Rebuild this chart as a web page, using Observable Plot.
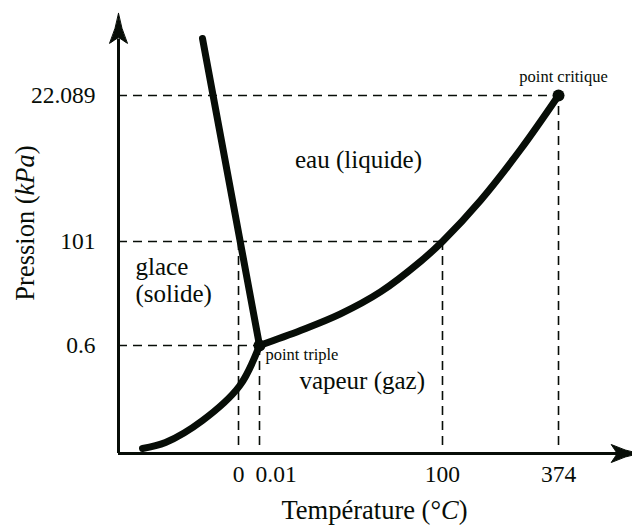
<!DOCTYPE html>
<html><head><meta charset="utf-8">
<script src="https://cdn.jsdelivr.net/npm/d3@7"></script>
<script src="https://cdn.jsdelivr.net/npm/@observablehq/plot@0.6"></script>
<style>body{margin:0;background:#fff}</style>
</head><body><div id="chart"></div>
<script>
// Schematic phase diagram of water (axes in schematic units 0..100)
const xTickLabels = ["0", "0.01", "100", "374"];
const xTickPos = [23.44, 27.54, 63.28, 85.94];
const yTickLabels = ["0.6", "101", "22.089"];
const yTickPos = [24.49, 48.07, 81.18];

// curves (schematic)
const fusionX = [16.41, 27.54];
const fusionY = [94.10, 24.49];
const vaporX = [27.54, 35.55, 43.36, 51.17, 58.98, 63.28, 70.70, 78.52, 85.94];
const vaporY = [24.49, 27.89, 31.66, 36.64, 43.54, 48.07, 57.37, 68.93, 81.18];
const sublX = [4.69, 9.18, 16.41, 23.63, 27.54];
const sublY = [1.13, 2.49, 7.48, 15.3, 24.49];

const specialNames = ["point triple", "point critique"];
const specialX = [27.54, 85.94];
const specialY = [24.49, 81.18];

const regionNames = ["eau (liquide)", "vapeur (gaz)"];
const regionX = [46.88, 47.6];
const regionY = [66.44, 16.55];
const solidLines = ["glace", "(solide)"];
const solidX = [3.32, 3.32];
const solidY = [42.3, 36.1];

const xTitle = "Température (°C)";
const yTitle = "Pression (kPa)";

const toPts = (xs, ys) => xs.map((x, i) => ({x, y: ys[i]}));
const ink = "#070d07";
const font = "'Liberation Serif', 'DejaVu Serif', serif";

// vertical dashed guides go up to the relevant pressure level
const vTop = [yTickPos[1], yTickPos[0], yTickPos[1], yTickPos[2]];
const hRight = [xTickPos[1], xTickPos[2], xTickPos[3]];
const vGuides = xTickPos.map((x, i) => ({x, y2: vTop[i]}));
const hGuides = yTickPos.map((y, i) => ({y, x2: hRight[i]}));
const xTicks = xTickPos.map((x, i) => ({x, label: xTickLabels[i]}));
const yTicks = yTickPos.map((y, i) => ({y, label: yTickLabels[i]}));

const stealth = {
  draw(context, l) {
    context.moveTo(0, -l);
    context.quadraticCurveTo(2.5, -l * 0.5, 9, 0);
    context.quadraticCurveTo(3, -4, 0, -6);
    context.quadraticCurveTo(-3, -4, -9, 0);
    context.quadraticCurveTo(-2.5, -l * 0.5, 0, -l);
    context.closePath();
  }
};

const txt = {fontFamily: font, fill: ink};

const chart = Plot.plot({
  width: 632,
  height: 529,
  marginLeft: 118,
  marginRight: 2,
  marginTop: 12,
  marginBottom: 76,
  style: {fontFamily: font, background: "#fff", color: ink},
  x: {domain: [0, 100], axis: null},
  y: {domain: [0, 100], axis: null},
  marks: [
    // dashed guides
    Plot.ruleX(vGuides, {x: "x", y1: 1.8, y2: "y2", stroke: ink, strokeWidth: 1.6, strokeDasharray: "9,6"}),
    Plot.ruleY(hGuides, {y: "y", x1: 0, x2: "x2", stroke: ink, strokeWidth: 1.6, strokeDasharray: "9,6"}),
    // axes
    Plot.ruleX([0], {y1: 0, y2: 94, stroke: ink, strokeWidth: 3}),
    Plot.ruleY([0], {x1: 0, x2: 98, stroke: ink, strokeWidth: 3}),
    Plot.vector([{x: 0, y: 99.8}], {
      x: "x", y: "y", rotate: 0, length: 30, anchor: "end", shape: stealth,
      fill: ink, stroke: ink, strokeWidth: 1
    }),
    Plot.vector([{x: 101.7, y: 0}], {
      x: "x", y: "y", rotate: 90, length: 28, anchor: "end", shape: stealth,
      fill: ink, stroke: ink, strokeWidth: 1
    }),
    // phase boundaries
    Plot.line(toPts(fusionX, fusionY), {x: "x", y: "y", stroke: ink, strokeWidth: 7}),
    Plot.line(toPts(vaporX, vaporY), {x: "x", y: "y", stroke: ink, strokeWidth: 7, curve: "catmull-rom"}),
    Plot.line(toPts(sublX, sublY), {x: "x", y: "y", stroke: ink, strokeWidth: 7, curve: "catmull-rom"}),
    Plot.dot(toPts(specialX, specialY), {x: "x", y: "y", r: 6, fill: ink}),
    // tick labels
    Plot.text(xTicks.filter(d => d.label !== "0.01"), {x: "x", y: 0, text: "label", dy: 21, fontSize: 23.5, ...txt}),
    Plot.text(xTicks.filter(d => d.label === "0.01"), {x: "x", y: 0, text: "label", dy: 21, dx: -4, textAnchor: "start", fontSize: 23.5, ...txt}),
    Plot.text(yTicks, {x: 0, y: "y", text: "label", dx: -23, textAnchor: "end", fontSize: 23.5, ...txt}),
    // region labels
    Plot.text(regionNames.map((t, i) => ({t, x: regionX[i], y: regionY[i]})), {x: "x", y: "y", text: "t", fontSize: 25, ...txt}),
    Plot.text(solidLines.map((t, i) => ({t, x: solidX[i], y: solidY[i]})), {x: "x", y: "y", text: "t", textAnchor: "start", fontSize: 25, ...txt}),
    Plot.text(specialNames.map((t, i) => ({t, x: specialX[i], y: specialY[i]})).slice(0, 1), {x: "x", y: "y", text: "t", textAnchor: "start", dx: 6, dy: 9, fontSize: 16.5, ...txt}),
    Plot.text(specialNames.map((t, i) => ({t, x: specialX[i], y: specialY[i]})).slice(1), {x: "x", y: "y", text: "t", dx: 5, dy: -19, fontSize: 16.5, ...txt}),
    // axis titles
    Plot.text([xTitle], {frameAnchor: "bottom", dy: 65, text: d => d, textAnchor: "middle", fontSize: 26.5, ...txt}),
    Plot.text([yTitle], {frameAnchor: "left", dx: -93, dy: -10, rotate: -90, text: d => d, textAnchor: "middle", fontSize: 26.5, ...txt})
  ]
});

// italicize the symbols in the axis titles
d3.select(chart).selectAll("text").each(function () {
  const el = d3.select(this);
  const s = el.text();
  let parts = null;
  if (s === yTitle) parts = ["Pression (", "kPa", ")"];
  else if (s === xTitle) parts = ["Température (°", "C", ")"];
  if (parts) {
    el.text(null);
    el.append("tspan").text(parts[0]);
    el.append("tspan").attr("font-style", "italic").text(parts[1]);
    el.append("tspan").text(parts[2]);
  }
});

document.getElementById("chart").appendChild(chart);
</script>
</body></html>
